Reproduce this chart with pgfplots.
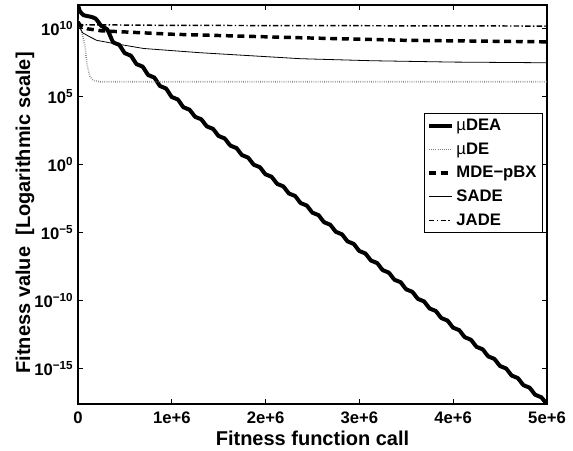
\documentclass[border=0pt]{standalone}
\usepackage{pgfplots}
\pgfplotsset{compat=1.18}
\usepackage{fontspec}
\setmainfont{Liberation Sans}

\begin{document}
\begin{tikzpicture}
  \begin{axis}[
      scale only axis,
      width=351.75pt, height=299.25pt,
      xmin=0, xmax=5,
      ymin=-17.6, ymax=11.75,
      xtick={0,1,2,3,4,5},
      xticklabels={0,1e+6,2e+6,3e+6,4e+6,5e+6},
      ytick={-15,-10,-5,0,5,10},
      yticklabels={10\textsuperscript{−15},10\textsuperscript{−10},10\textsuperscript{−5},10\textsuperscript{0},10\textsuperscript{5},10\textsuperscript{10}},
      tick align=inside,
      major tick length=4pt,
      tick style={black, line width=0.6pt},
      axis line style={line width=0.9pt},
      tick label style={font=\fontsize{12.5}{15}\selectfont\bfseries},
      xticklabel style={yshift=-2pt},
      label style={font=\fontsize{15}{18}\selectfont\bfseries},
      xlabel={Fitness function call},
      ylabel={Fitness value\ \ [Logarithmic scale]},
      xlabel style={yshift=1pt},
      ylabel style={at={(axis description cs:-0.113,0.479)}, anchor=center},
      legend style={at={(0.99,0.729)}, anchor=north east, draw=black,
        line width=0.6pt, font=\fontsize{12.5}{15}\selectfont\bfseries,
        row sep=3.7pt, inner sep=2pt},
      legend cell align=left,
      clip=true,
    ]
    % muDEA
    \addplot[black, line width=3pt, smooth, tension=0.4] coordinates {
      (0,11.75) (0.02,11.3) (0.06,11.0) (0.125,10.9) (0.1875,10.75)
      (0.25,10.2) (0.3125,9.95) (0.375,9.007) (0.4375,8.831)
      (0.5,8.202) (0.5625,8.026) (0.625,7.397) (0.6875,7.221)
      (0.75,6.592) (0.8125,6.416) (0.875,5.787) (0.9375,5.611)
      (1.0,4.982) (1.0625,4.806) (1.125,4.227) (1.1875,4.051)
      (1.25,3.522) (1.3125,3.346) (1.375,2.817) (1.4375,2.641)
      (1.5,2.112) (1.5625,1.936) (1.625,1.407) (1.6875,1.231)
      (1.75,0.702) (1.8125,0.526) (1.875,-0.003) (1.9375,-0.179)
      (2.0,-0.708) (2.0625,-0.884) (2.125,-1.413) (2.1875,-1.589)
      (2.25,-2.118) (2.3125,-2.294) (2.375,-2.823) (2.4375,-2.999)
      (2.5,-3.528) (2.5625,-3.704) (2.625,-4.233) (2.6875,-4.409)
      (2.75,-4.938) (2.8125,-5.114) (2.875,-5.643) (2.9375,-5.819)
      (3.0,-6.348) (3.0625,-6.524) (3.125,-7.053) (3.1875,-7.229)
      (3.25,-7.758) (3.3125,-7.934) (3.375,-8.463) (3.4375,-8.639)
      (3.5,-9.168) (3.5625,-9.344) (3.625,-9.873) (3.6875,-10.049)
      (3.75,-10.578) (3.8125,-10.754) (3.875,-11.283) (3.9375,-11.459)
      (4.0,-11.988) (4.0625,-12.164) (4.125,-12.693) (4.1875,-12.869)
      (4.25,-13.398) (4.3125,-13.574) (4.375,-14.103) (4.4375,-14.279)
      (4.5,-14.808) (4.5625,-14.984) (4.625,-15.513) (4.6875,-15.689)
      (4.75,-16.218) (4.8125,-16.394) (4.875,-16.923) (4.9375,-17.099)
      (5.0,-17.628)
    };
    \addlegendentry{{\mdseries µ}DEA}
    % muDE
    \addplot[black!50, line width=1.2pt, dash pattern=on 0.5pt off 1.1pt] coordinates {
      (0,10.66) (0.021,10.3) (0.043,9.7) (0.075,8.7) (0.096,7.35)
      (0.128,6.5) (0.16,6.2) (0.235,6.1) (1,6.1) (5,6.1)
    };
    \addlegendentry{{\mdseries µ}DE}
    % MDE-pBX
    \addplot[black, line width=2.6pt, dash pattern=on 5.2pt off 3.5pt] coordinates {
      (0,10.5) (0.03,10.2) (0.1,10.0) (0.25,9.85) (1,9.6)
      (2.37,9.34) (3.5,9.15) (5,9.04)
    };
    \addlegendentry{MDE−pBX}
    % SADE
    \addplot[black, line width=0.6pt] coordinates {
      (0,10.6) (0.02,10.07) (0.05,9.7) (0.128,9.4) (0.2,9.15)
      (0.34,8.97) (0.7,8.55) (1.3,8.24) (2.37,7.8) (3.13,7.65)
      (4,7.55) (5,7.5)
    };
    \addlegendentry{SADE}
    % JADE
    \addplot[black, line width=1.1pt, dash pattern=on 4pt off 1.8pt on 1pt off 1.8pt] coordinates {
      (0,10.3) (1,10.25) (5,10.2)
    };
    \addlegendentry{JADE}
    \coordinate (SW) at (rel axis cs:0,0);
    \coordinate (NE) at (rel axis cs:1,1);
  \end{axis}
  \path ([shift={(-58.5pt,-33.75pt)}]SW) rectangle ([shift={(19.5pt,3.75pt)}]NE);
\end{tikzpicture}
\end{document}
